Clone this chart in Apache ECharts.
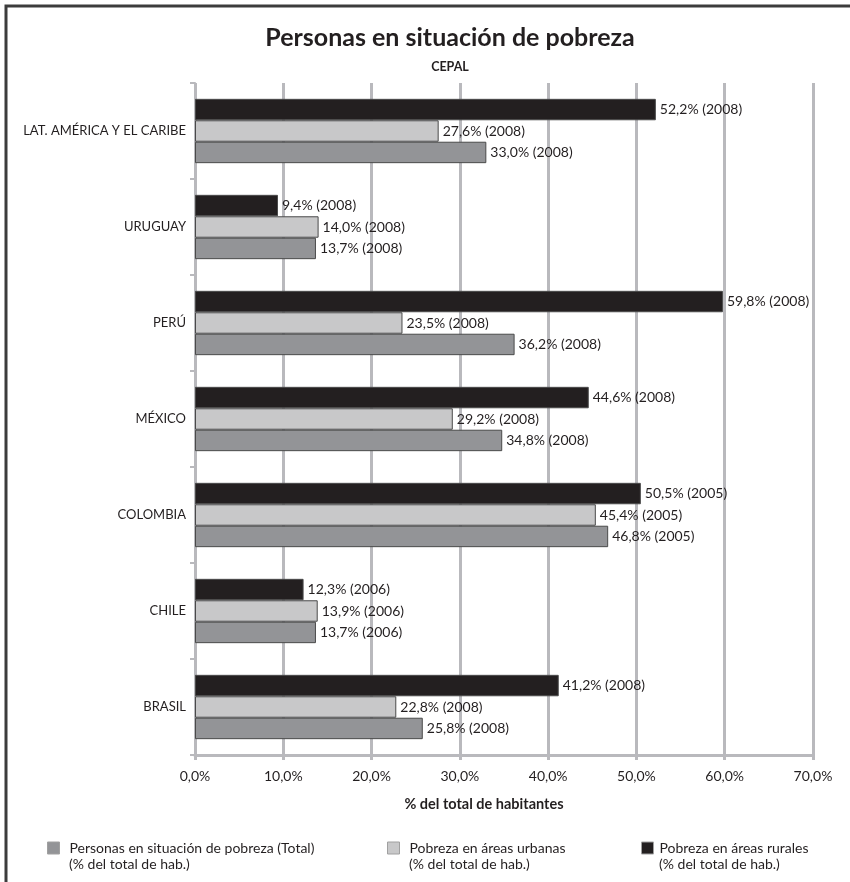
<!DOCTYPE html>
<html>
<head>
<meta charset="utf-8">
<script src="https://cdn.jsdelivr.net/npm/echarts@6/dist/echarts.min.js"></script>
<style>
  html, body { margin: 0; padding: 0; background: #fff; }
  #chart { width: 850px; height: 882px; }
</style>
</head>
<body>
<div id="chart"></div>
<script>
// Pobreza en América Latina (CEPAL), % del total de habitantes
const categories = ['LAT. AMÉRICA Y EL CARIBE', 'URUGUAY', 'PERÚ', 'MÉXICO', 'COLOMBIA', 'CHILE', 'BRASIL'];
const years = [2008, 2008, 2008, 2008, 2005, 2006, 2008];
const totalValues = [33.0, 13.7, 36.2, 34.8, 46.8, 13.7, 25.8];
const urbanValues = [27.6, 14.0, 23.5, 29.2, 45.4, 13.9, 22.8];
const ruralValues = [52.2, 9.4, 59.8, 44.6, 50.5, 12.3, 41.2];
const xTicks = [0, 10, 20, 30, 40, 50, 60, 70];

const seriesNames = [
  'Personas en situación de pobreza (Total)',
  'Pobreza en áreas urbanas',
  'Pobreza en áreas rurales'
];
const legendSub = '(% del total de hab.)';

const FONT = 'Lato';
const TEXT = '#231f20';
const GRID = '#b9b9bd';

const fmtPct = v => v.toFixed(1).replace('.', ',') + '%';

function barSeries(name, values, color) {
  return {
    name: name,
    type: 'bar',
    data: values,
    barGap: '0%',
    barCategoryGap: '33%',
    itemStyle: { color: color, borderColor: '#4a4a4a', borderWidth: 1 },
    label: {
      show: true,
      position: 'right',
      distance: 4,
      fontFamily: FONT,
      fontSize: 14,
      color: TEXT,
      formatter: p => fmtPct(p.value) + ' (' + years[p.dataIndex] + ')'
    },
    emphasis: { disabled: true }
  };
}

function legendAt(name, left, textPad) {
  return {
    data: [name],
    left: left,
    top: 841,
    padding: 0,
    itemWidth: 12,
    itemHeight: 12,
    icon: 'rect',
    selectedMode: false,
    itemStyle: { borderColor: '#a0a0a0', borderWidth: 1 },
    textStyle: { fontFamily: FONT, fontSize: 14, color: TEXT, padding: [0, 0, 0, textPad] }
  };
}

const chart = echarts.init(document.getElementById('chart'), null, { renderer: 'canvas' });

chart.setOption({
  animation: false,
  backgroundColor: '#fff',
  title: [{
    text: 'Personas en situación de pobreza',
    left: 445,
    top: 20,
    textAlign: 'center',
    textStyle: { fontFamily: FONT, fontWeight: 'bold', fontSize: 25, color: TEXT }
  }, {
    text: 'CEPAL',
    left: 445,
    top: 55,
    textAlign: 'center',
    textStyle: { fontFamily: FONT, fontWeight: 'bold', fontSize: 12.5, color: TEXT }
  }],
  legend: [
    legendAt(seriesNames[0], 47, 5),
    legendAt(seriesNames[1], 387, 5),
    legendAt(seriesNames[2], 641, 1)
  ],
  grid: { left: 195, right: 37, top: 83, bottom: 127, containLabel: false },
  xAxis: {
    type: 'value',
    min: xTicks[0],
    max: xTicks[xTicks.length - 1],
    interval: 10,
    name: '% del total de habitantes',
    nameLocation: 'middle',
    nameGap: 42,
    nameTextStyle: {
      fontFamily: FONT, fontWeight: 'bold', fontSize: 14.5, color: TEXT,
      padding: [0, 40, 0, 0]
    },
    axisLine: { show: true, lineStyle: { color: GRID, width: 3 } },
    axisTick: { show: true, length: 5, lineStyle: { color: GRID, width: 3 } },
    splitLine: { show: true, lineStyle: { color: GRID, width: 3 } },
    axisLabel: { fontFamily: FONT, fontSize: 14, color: TEXT, margin: 14, formatter: fmtPct }
  },
  yAxis: {
    type: 'category',
    data: categories,
    inverse: true,
    axisLine: { show: true, lineStyle: { color: GRID, width: 2 } },
    axisTick: { show: true, length: 5, lineStyle: { color: GRID, width: 2 } },
    axisLabel: { fontFamily: FONT, fontSize: 13, color: TEXT, margin: 9 }
  },
  series: [
    barSeries(seriesNames[2], ruralValues, '#231f20'),
    barSeries(seriesNames[1], urbanValues, '#c8c8c9'),
    barSeries(seriesNames[0], totalValues, '#939497')
  ],
  graphic: [
    {
      type: 'polyline',
      shape: { points: [[6, 882], [6, 6], [850, 6]] },
      style: { stroke: '#3c3c3c', lineWidth: 3, fill: null },
      silent: true
    },
    { type: 'text', left: 69, top: 857, style: { text: legendSub, font: '14px ' + FONT, fill: TEXT } },
    { type: 'text', left: 409, top: 857, style: { text: legendSub, font: '14px ' + FONT, fill: TEXT } },
    { type: 'text', left: 659, top: 857, style: { text: legendSub, font: '14px ' + FONT, fill: TEXT } }
  ]
});
</script>
</body>
</html>
